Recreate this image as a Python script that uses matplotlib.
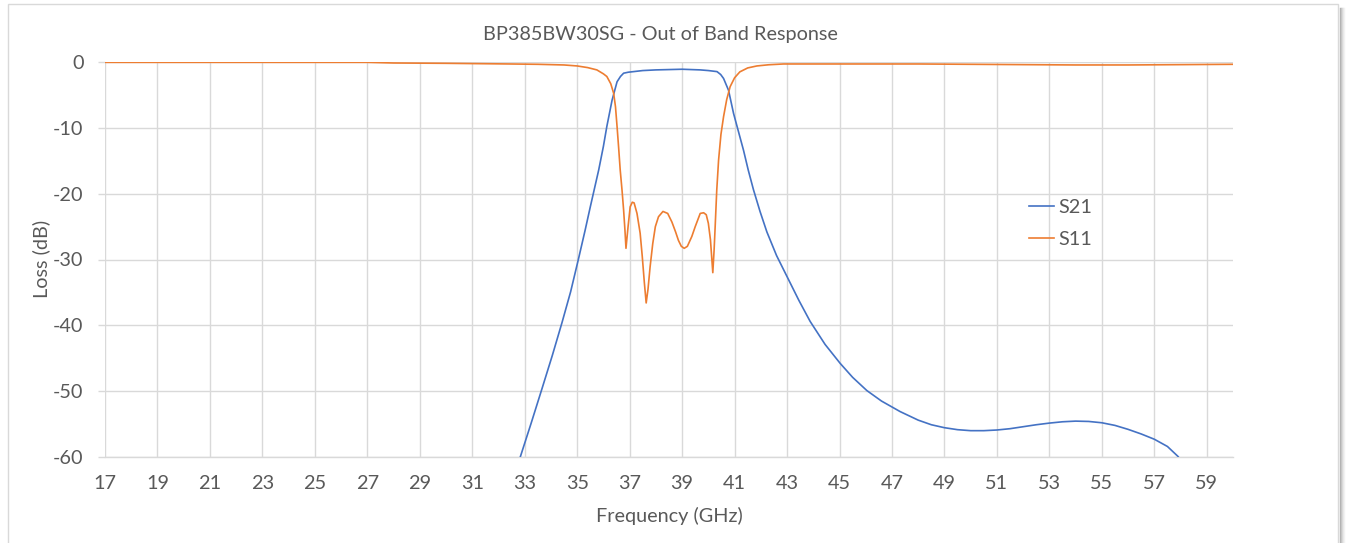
import matplotlib
matplotlib.use("Agg")
import matplotlib.pyplot as plt
from matplotlib.patches import Rectangle
from matplotlib.lines import Line2D

title = "BP385BW30SG - Out of Band Response"
xlabel = "Frequency (GHz)"
ylabel = "Loss (dB)"
xticks = list(range(17, 60, 2))
yticks = [0, -10, -20, -30, -40, -50, -60]

s21_f = [32.3, 32.83, 33.25, 33.66, 34.05, 34.42, 34.75, 35.05, 35.3, 35.5, 35.82, 36.0, 36.13,
         36.33, 36.52, 36.65, 36.77, 36.95, 37.15, 37.5, 38.0, 38.5, 39.0, 39.69, 40.0,
         40.33, 40.47, 40.58, 40.77, 40.96, 41.15, 41.34, 41.52, 41.72, 41.97, 42.23, 42.6,
         43.0, 43.45, 43.88, 44.45, 45.03, 45.5, 46.04, 46.6, 47.31, 48.0, 48.5, 49.0, 49.5,
         50.0, 50.5, 51.0, 51.5, 52.0, 52.5, 53.0, 53.5, 54.0, 54.5, 55.0, 55.5, 56.0, 56.5,
         57.0, 57.5, 57.9, 58.2]
s21_db = [-67.0, -60.0, -54.8, -49.6, -44.6, -39.6, -34.9, -29.9, -25.6, -22.0, -16.4, -12.8, -9.8,
          -5.8, -3.0, -2.2, -1.7, -1.55, -1.46, -1.3, -1.2, -1.15, -1.1, -1.2, -1.3,
          -1.46, -1.9, -2.5, -4.3, -7.8, -10.6, -13.4, -16.4, -19.4, -22.7, -25.8, -29.4,
          -32.6, -36.2, -39.4, -42.9, -45.8, -47.9, -49.9, -51.5, -53.1, -54.4, -55.1, -55.55, -55.85,
          -56.0, -56.0, -55.9, -55.7, -55.4, -55.1, -54.85, -54.65, -54.55, -54.6, -54.8, -55.2, -55.8,
          -56.5, -57.3, -58.4, -59.9, -61.5]

s11_f = [17.0, 20.0, 24.0, 27.0, 28.0, 30.0, 32.45, 33.5, 34.5, 35.0, 35.4, 35.75, 36.0,
         36.13, 36.28, 36.39, 36.46, 36.52, 36.58, 36.64, 36.71, 36.77, 36.82, 36.86, 36.94,
         37.02, 37.1, 37.17, 37.28, 37.4, 37.48, 37.56, 37.63, 37.7, 37.78, 37.88, 37.98, 38.1,
         38.27, 38.45, 38.61, 38.75, 38.86, 38.97, 39.08, 39.2, 39.37, 39.5, 39.69, 39.82,
         39.92, 40.0, 40.08, 40.17, 40.22, 40.26, 40.32, 40.39, 40.48, 40.58, 40.7, 40.83,
         41.0, 41.2, 41.5, 41.85, 42.3, 42.87, 44.0, 46.0, 48.0, 50.0, 52.0, 54.0, 56.0, 58.0,
         60.0]
s11_db = [-0.05, -0.05, -0.05, -0.05, -0.15, -0.2, -0.3, -0.35, -0.45, -0.6, -0.85, -1.2, -1.8,
          -2.2, -3.3, -4.75, -6.8, -9.8, -13.0, -16.4, -19.5, -22.5, -25.5, -28.3, -25.0,
          -22.0, -21.3, -21.4, -23.0, -26.0, -29.5, -33.5, -36.6, -34.5, -31.1, -27.6, -25.0, -23.5,
          -22.7, -23.0, -24.3, -25.8, -27.1, -28.0, -28.3, -28.0, -26.5, -25.0, -23.0, -22.9,
          -23.2, -24.5, -27.0, -32.0, -28.5, -25.0, -19.5, -14.9, -11.0, -8.3, -5.7, -3.75,
          -2.4, -1.5, -0.9, -0.6, -0.42, -0.3, -0.3, -0.3, -0.3, -0.35, -0.4, -0.45, -0.45, -0.4,
          -0.35]

FONT = ["Lato", "DejaVu Sans"]
plt.rcParams["font.family"] = FONT
plt.rcParams["axes.unicode_minus"] = False
TXT = "#595959"
GRID = "#d9d9d9"
FS = 14.3

W, H = 1346, 543
fig = plt.figure(figsize=(W / 100, H / 100), dpi=100)
fig.patch.set_facecolor("white")

# chart border and shadow
fig.patches.append(Rectangle((8 / W, -0.02), (1338 - 8) / W, (543 - 4) / H + 0.02,
                             transform=fig.transFigure, fill=False, edgecolor="#d9d9d9",
                             linewidth=1.0, zorder=0))
for i, c in enumerate(["#b0b0b0", "#c4c4c4", "#d6d6d6", "#e6e6e6", "#f2f2f2"]):
    fig.lines.append(Line2D([(1339.5 + i) / W] * 2, [0, (543 - 8) / H],
                            transform=fig.transFigure, color=c, linewidth=1.0))

ax = fig.add_axes([105 / W, 1 - 457 / H, (1233 - 105) / W, (457 - 62) / H])
ax.plot(s21_f, s21_db, color="#4472C4", linewidth=1.2, label="S21", zorder=3)
ax.plot(s11_f, s11_db, color="#ED7D31", linewidth=1.2, label="S11", zorder=3)

ax.set_xlim(17, 60)
ax.set_ylim(-60, 0)
ax.set_xticks(xticks)
ax.set_yticks(yticks)
ax.grid(True, color=GRID, linewidth=1.0, zorder=0)
for s in ["top", "right", "left"]:
    ax.spines[s].set_visible(False)
ax.spines["bottom"].set_color(GRID)
ax.spines["bottom"].set_linewidth(1.0)
ax.tick_params(axis="x", length=0, labelsize=FS, labelcolor=TXT, pad=13)
ax.tick_params(axis="y", length=5, color=GRID, width=1.0, labelsize=FS, labelcolor=TXT, pad=10.5)

fig.text(660.5 / W, 1 - 35 / H, title, fontsize=FS, color=TXT,
         ha="center", va="center")
fig.text(669 / W, 1 - 516 / H, xlabel, fontsize=FS, color=TXT,
         ha="center", va="center")
fig.text(41.5 / W, 1 - 259 / H, ylabel, fontsize=FS, color=TXT, rotation=90,
         ha="center", va="center")

leg = ax.legend(loc="upper left", bbox_to_anchor=((1019 - 105) / (1233 - 105), (457 - 189) / (457 - 62)),
                frameon=False, fontsize=FS, handlelength=1.26, handletextpad=0.2,
                labelspacing=0.78, borderpad=0)
for t in leg.get_texts():
    t.set_color(TXT)

fig.savefig("out.png", dpi=100)
